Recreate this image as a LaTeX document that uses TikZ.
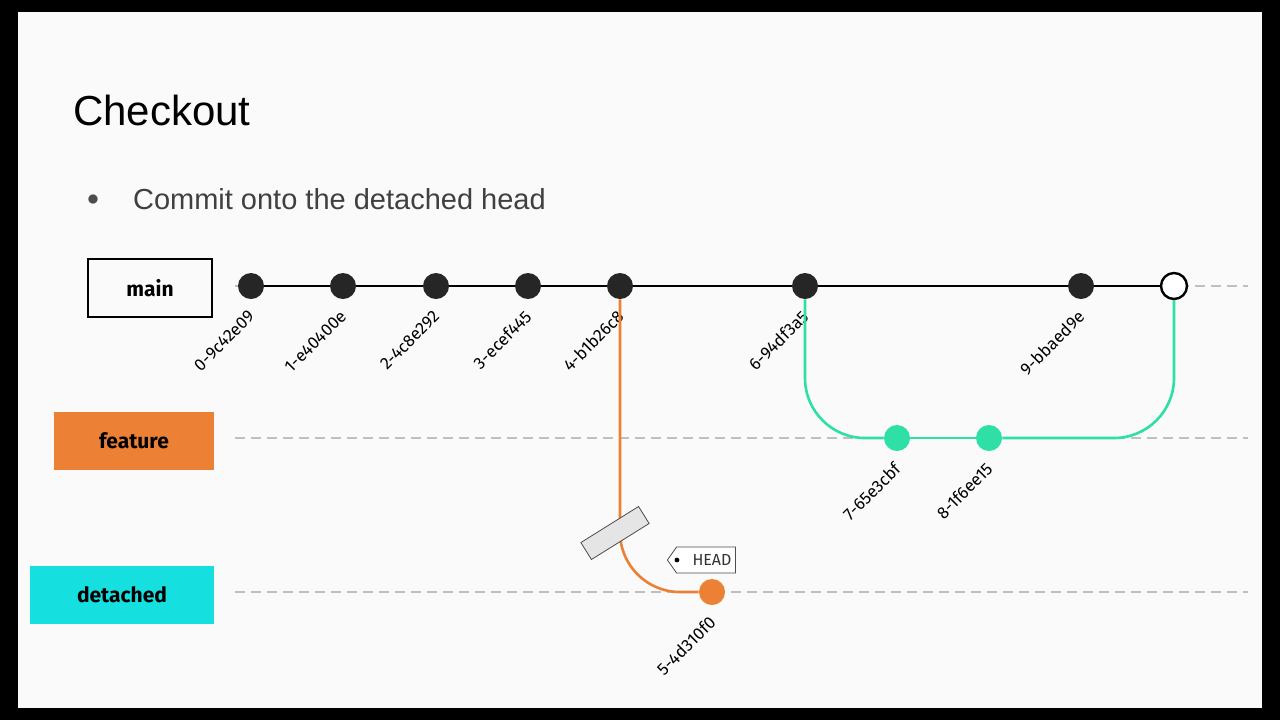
\documentclass[tikz,border=0pt]{standalone}
\usepackage{fontspec}
\setmainfont{Liberation Sans}
\newfontfamily\labelfont{Fira Sans}
\usetikzlibrary{shapes.misc,shapes.symbols}
\definecolor{featcol}{HTML}{EC8034}
\definecolor{detcol}{HTML}{16DFE0}
\definecolor{tealcol}{HTML}{2EDFA6}
\tikzstyle{commit}=[circle,fill=black!85,minimum size=13pt,inner sep=0pt]
\tikzstyle{branch}=[minimum height=29pt,inner sep=0pt,font=\labelfont\bfseries\fontsize{10.5}{13}\selectfont]
\tikzstyle{hash}=[anchor=east,rotate=45,inner sep=1pt,font=\labelfont\fontsize{8.5}{9}\selectfont]
\tikzstyle{lane}=[draw=black!25,line width=1.2pt,dash pattern=on 5pt off 3pt]
\begin{document}
\begin{tikzpicture}[x=0.5pt,y=-0.5pt]
  \fill[black] (0,0) rectangle (1280,720);
  \fill[black!2] (18,12) rectangle (1262,708);
  \useasboundingbox (0,0) rectangle (1280,720);
  \node[anchor=west,font=\fontsize{21}{24}\selectfont] (title) at (66,110) {Checkout};
  \node[font=\fontsize{12}{14}\selectfont,text=black!70] (bullet) at (93,200) {$\bullet$};
  \node[anchor=west,font=\fontsize{14.5}{16}\selectfont,text=black!75] (point) at (126,199) {Commit onto the detached head};
  % lanes
  \draw[lane] (235,286) -- (1248,286);
  \draw[lane] (235,438) -- (1248,438);
  \draw[lane] (235,592) -- (1248,592);
  % branch labels
  \node[branch,draw,line width=1.2pt,minimum width=62pt] (main) at (150,288) {main};
  \node[branch,fill=featcol,minimum width=80pt] (feature) at (134,441) {feature};
  \node[branch,fill=detcol,minimum width=92pt] (detached) at (122,595) {detached};
  % commits
  \foreach \n/\x/\h in {c0/251/0-9c42e09,c1/343/1-e40400e,c2/436/2-4c8e292,c3/528/3-ecef445,c4/620/4-b1b26c8,c6/805/6-94df3a5,c9/1081/9-bbaed9e}{
    \node[commit] (\n) at (\x,286) {};
    \node[hash] (\n l) at (\x+2,312) {\h};
  }
  \node[commit,fill=white,draw=black,line width=1.2pt] (tip) at (1174,286) {};
  \draw[line width=1.3pt] (c0) -- (c1) -- (c2) -- (c3) -- (c4) -- (c6) -- (c9) -- (tip);
  \node[commit,fill=tealcol] (c7) at (897,438) {};
  \node[commit,fill=tealcol] (c8) at (989,438) {};
  \node[hash] (c7l) at (899,464) {7-65e3cbf};
  \node[hash] (c8l) at (991,464) {8-1f6ee15};
  \node[commit,fill=featcol] (c5) at (712,592) {};
  \node[hash] (c5l) at (714,618) {5-4d310f0};
  % branch paths
  \draw[tealcol,line width=1.3pt,rounded corners=30pt] (c6) |- (c7);
  \draw[tealcol,line width=1.3pt] (c7) -- (c8);
  \draw[tealcol,line width=1.3pt,rounded corners=30pt] (c8) -| (tip);
  \draw[featcol,line width=1.3pt,rounded corners=30pt] (c4) |- (c5);
  % detached marker and HEAD tag
  \node[draw=black!70,fill=black!10,minimum width=34pt,minimum height=10pt,inner sep=0pt,rotate=32] (cut) at (615,533) {};
  \node[draw=black!70,fill=white,signal,signal to=west,signal pointer angle=110,inner sep=2pt,font=\labelfont\fontsize{8}{9}\selectfont,text=black!80,minimum height=13pt] (head) at (706,560) {\hspace{6pt}HEAD};
  \fill[black] ([xshift=5pt]head.west) circle (1.2pt);
\end{tikzpicture}
\end{document}
